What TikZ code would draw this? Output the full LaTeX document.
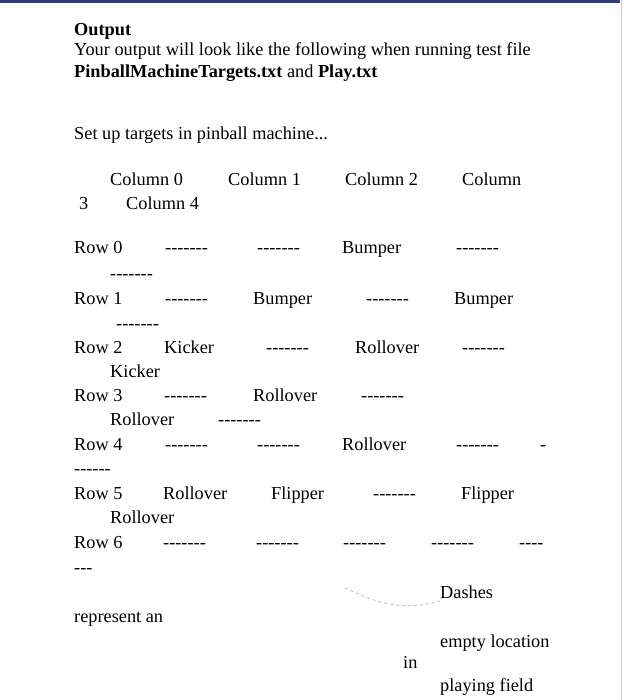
\documentclass[tikz,border=0pt]{standalone}
\usepackage{fontspec}
\setmainfont{Liberation Serif}
\newcommand\hy{-\kern0pt}
\newcommand\sev{\hy\hy\hy\hy\hy\hy\hy}
\begin{document}
\begin{tikzpicture}[x=1pt,y=-1pt,
  t/.style={anchor=base west,inner sep=0pt,font=\fontsize{18.3}{20}\selectfont}]
\useasboundingbox (0,0) rectangle (623,700);
\fill[white] (0,0) rectangle (623,700);
\fill[color={rgb,255:red,43;green,63;blue,122}] (0,0) rectangle (620,3);
\draw[gray!40,line width=0.6pt] (621,0) -- (621,700);
\node[t] (h) at (74,36) {\textbf{Output}};
\node[t] (l1) at (74,56) {Your output will look like the following when running test file};
\node[t] (l2) at (74,78) {\textbf{PinballMachineTargets.txt} and \textbf{Play.txt}};
\node[t] (l3) at (74,140) {Set up targets in pinball machine...};
\node[t] (c0) at (110,186) {Column 0};
\node[t] (c1) at (228,186) {Column 1};
\node[t] (c2) at (345,186) {Column 2};
\node[t] (c3) at (462,186) {Column};
\node[t] (c3b) at (79,210) {3};
\node[t] (c4) at (126,210) {Column 4};
% Row 0
\node[t] (r0) at (74,254) {Row 0};
\node[t] (r0a) at (165,254) {\sev};
\node[t] (r0b) at (257,254) {\sev};
\node[t] (r0c) at (342,254) {Bumper};
\node[t] (r0d) at (456,254) {\sev};
\node[t] (r0e) at (110,279) {\sev};
% Row 1
\node[t] (r1) at (74,304) {Row 1};
\node[t] (r1a) at (165,304) {\sev};
\node[t] (r1b) at (253,304) {Bumper};
\node[t] (r1c) at (366,304) {\sev};
\node[t] (r1d) at (454,304) {Bumper};
\node[t] (r1e) at (116,329) {\sev};
% Row 2
\node[t] (r2) at (74,353) {Row 2};
\node[t] (r2a) at (164,353) {Kicker};
\node[t] (r2b) at (266,353) {\sev};
\node[t] (r2c) at (355,353) {Rollover};
\node[t] (r2d) at (462,353) {\sev};
\node[t] (r2e) at (110,377) {Kicker};
% Row 3
\node[t] (r3) at (74,401) {Row 3};
\node[t] (r3a) at (164,401) {\sev};
\node[t] (r3b) at (253,401) {Rollover};
\node[t] (r3c) at (361,401) {\sev};
\node[t] (r3d) at (110,425) {Rollover};
\node[t] (r3e) at (218,425) {\sev};
% Row 4
\node[t] (r4) at (74,450) {Row 4};
\node[t] (r4a) at (165,450) {\sev};
\node[t] (r4b) at (257,450) {\sev};
\node[t] (r4c) at (342,450) {Rollover};
\node[t] (r4d) at (456,450) {\sev};
\node[t] (r4e) at (540,450) {\hy};
\node[t] (r4f) at (74,474) {\hy\hy\hy\hy\hy\hy};
% Row 5
\node[t] (r5) at (74,499) {Row 5};
\node[t] (r5a) at (163,499) {Rollover};
\node[t] (r5b) at (271,499) {Flipper};
\node[t] (r5c) at (373,499) {\sev};
\node[t] (r5d) at (461,499) {Flipper};
\node[t] (r5e) at (110,523) {Rollover};
% Row 6
\node[t] (r6) at (74,548) {Row 6};
\node[t] (r6a) at (163,548) {\sev};
\node[t] (r6b) at (256,548) {\sev};
\node[t] (r6c) at (343,548) {\sev};
\node[t] (r6d) at (431,548) {\sev};
\node[t] (r6e) at (519,548) {\hy\hy\hy\hy};
\node[t] (r6f) at (74,573) {\hy\hy\hy};
% legend
\node[t] (d) at (440,598) {Dashes};
\node[t] (rep) at (74,622) {represent an};
\node[t] (el) at (440,647) {empty location};
\node[t] (in) at (403,668) {in};
\node[t] (pf) at (440,691) {playing field};
\coordinate (cs) at (345,588);
\draw[gray!70,dashed,line width=0.6pt] (cs) .. controls (375,602) and (400,612) .. (d.west |- 0,601);
\end{tikzpicture}
\end{document}
